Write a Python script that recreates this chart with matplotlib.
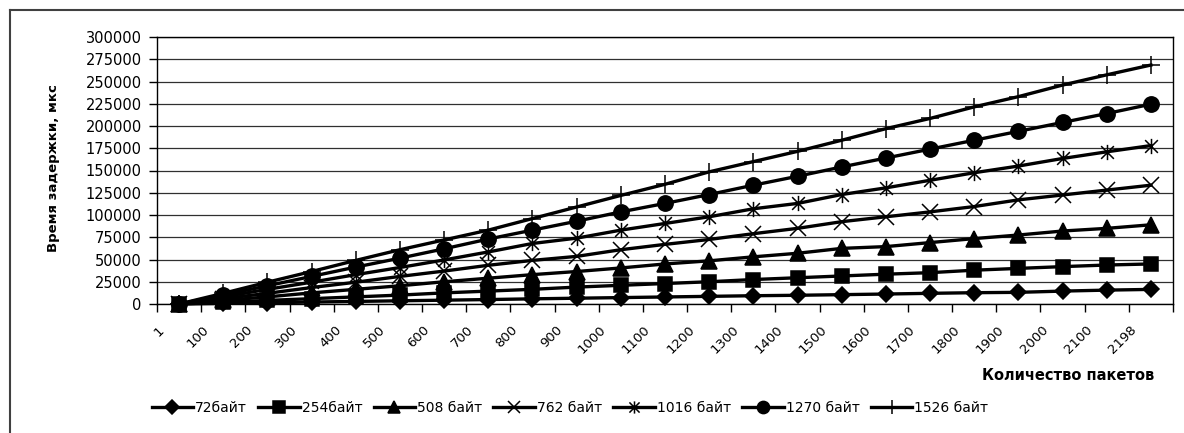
import matplotlib.pyplot as plt
from matplotlib.lines import Line2D
from matplotlib.path import Path
from matplotlib.transforms import ScaledTranslation

plt.rcParams['font.family'] = ['DejaVu Sans']

# Data
packets = ['1', '100', '200', '300', '400', '500', '600', '700', '800', '900', '1000',
           '1100', '1200', '1300', '1400', '1500', '1600', '1700', '1800', '1900',
           '2000', '2100', '2198']

delay_72 = [0, 700, 1400, 2200, 2900, 3600, 4300, 5000, 5800, 6500, 7200, 7900,
            8600, 9300, 9800, 10500, 11200, 12000, 12700, 13100, 14500, 15600, 16400]
delay_254 = [0, 2000, 4000, 6000, 8000, 10000, 12500, 14500, 16500, 19000, 21000,
             23000, 25000, 27500, 29500, 31500, 33500, 35200, 38000, 40000, 42000,
             43800, 45000]
delay_508 = [0, 4000, 8000, 12500, 16500, 20500, 25000, 29000, 33000, 36500, 40500,
             45000, 48500, 53000, 57000, 62500, 64500, 69000, 73500, 77500, 82000,
             85000, 89000]
delay_762 = [0, 6000, 12000, 18500, 24500, 31000, 37000, 43500, 49000, 53500, 61000,
             67000, 72500, 79000, 85000, 92500, 98000, 103500, 109500, 117000, 122500,
             128000, 133500]
delay_1016 = [0, 8000, 16500, 24500, 33000, 41000, 49500, 58500, 68000, 74000, 83000,
              90500, 98000, 107000, 113000, 123000, 130500, 139000, 147500, 155000,
              163500, 171000, 178000]
delay_1270 = [0, 10000, 20500, 31000, 41500, 51500, 62000, 73000, 83000, 93000,
              103500, 113000, 123000, 133500, 143500, 154000, 164000, 174000, 184000,
              194000, 204000, 214000, 224500]
delay_1526 = [0, 12000, 24500, 36500, 49000, 61000, 72000, 83000, 96000, 109000,
              122000, 134500, 148500, 160000, 171500, 184000, 197000, 208500, 221500,
              233000, 246000, 257500, 268500]

series_names = ['72байт', '254байт', '508 байт', '762 байт', '1016 байт',
                '1270 байт', '1526 байт']
series = [delay_72, delay_254, delay_508, delay_762, delay_1016, delay_1270, delay_1526]

# Excel-like asterisk marker: an X with a vertical bar
asterisk = Path(
    [(-1, -1), (1, 1), (-1, 1), (1, -1), (0, -1.2), (0, 1.2)],
    [Path.MOVETO, Path.LINETO, Path.MOVETO, Path.LINETO, Path.MOVETO, Path.LINETO],
)
markers = ['D', 's', '^', 'x', asterisk, 'o', '+']
marker_sizes = [8.5, 10, 11, 11, 11, 11, 13]

fig = plt.figure(figsize=(11.84, 4.33), dpi=100)
ax = fig.add_axes([157 / 1184, 1 - 304 / 433, 1016 / 1184, 267 / 433])

x = list(range(len(packets)))
for vals, name, m, ms in zip(series, series_names, markers, marker_sizes):
    ax.plot(x, vals, color='black', lw=2.4, marker=m, markersize=ms,
            markerfacecolor='black', markeredgecolor='black', markeredgewidth=1.1,
            label=name, clip_on=False)

ax.set_xlim(-0.5, len(packets) - 0.5)
ax.set_ylim(0, 300000)
ax.set_yticks(range(0, 300001, 25000))
ax.tick_params(axis='y', direction='out', length=6, width=1, pad=5, labelsize=10.5)
ax.yaxis.grid(True, color='#303030', lw=0.9)
ax.set_axisbelow(True)

ax.set_xticks(x)
ax.set_xticklabels(packets, rotation=45, ha='right', va='top', fontsize=9.5)
ax.set_xticks([i - 0.5 for i in range(len(packets) + 1)], minor=True)
ax.tick_params(axis='x', which='major', length=0, pad=14)
ax.tick_params(axis='x', which='minor', direction='out', length=6, width=1)
shift = ScaledTranslation(-12 / 100, 0, fig.dpi_scale_trans)
for lbl in ax.get_xticklabels():
    lbl.set_transform(lbl.get_transform() + shift)

for sp in ax.spines.values():
    sp.set_linewidth(1.0)
    sp.set_color('black')

fig.text(54 / 1184, 1 - 168 / 433, 'Время задержки, мкс', rotation=90,
         ha='center', va='center', fontsize=9.5, fontweight='bold')
fig.text(1068 / 1184, 1 - 375 / 433, 'Количество пакетов',
         ha='center', va='center', fontsize=10.5, fontweight='bold')

fig.legend(loc='center', bbox_to_anchor=(570 / 1184, 1 - 408 / 433), ncol=7,
           frameon=False, fontsize=10, handlelength=3.0, handletextpad=0.14,
           columnspacing=0.8, markerscale=0.8)

# outer chart frame (only top and left edges are visible in the crop)
fig.add_artist(Line2D([10 / 1184, 10 / 1184], [0, 1 - 10 / 433],
                      color='#404040', lw=1.5))
fig.add_artist(Line2D([10 / 1184, 1], [1 - 10 / 433, 1 - 10 / 433],
                      color='#404040', lw=1.5))

fig.savefig('out.png', dpi=100, facecolor='white')
